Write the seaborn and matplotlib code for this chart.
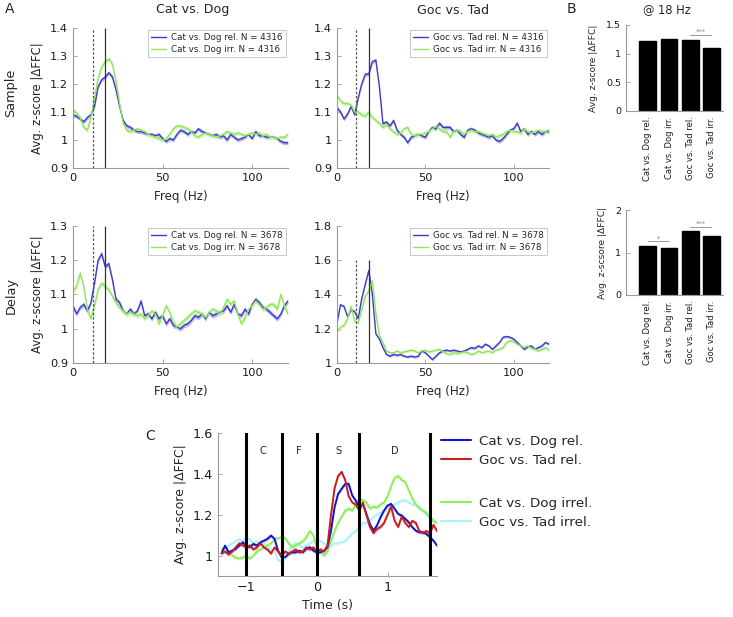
import numpy as np
import pandas as pd
import matplotlib
matplotlib.use("Agg")
import matplotlib.pyplot as plt
import seaborn as sns
from matplotlib.lines import Line2D

sns.set_style("ticks")
plt.rcParams['font.family'] = ['DejaVu Sans']
plt.rcParams['xtick.direction'] = 'in'
plt.rcParams['ytick.direction'] = 'in'

# ---------------- data ----------------
freq = list(range(0, 121, 2))

sample_cd_rel = [1.088, 1.085, 1.075, 1.065, 1.08, 1.09, 1.12, 1.19, 1.215, 1.225,
                 1.24, 1.225, 1.18, 1.12, 1.07, 1.05, 1.045, 1.035, 1.03, 1.03,
                 1.025, 1.02, 1.02, 1.015, 1.02, 1.005, 0.995, 1.005, 1.0, 1.02,
                 1.035, 1.03, 1.02, 1.03, 1.025, 1.04, 1.03, 1.025, 1.02, 1.015,
                 1.02, 1.01, 1.015, 1.0, 1.02, 1.01, 1.0, 1.005, 1.01, 1.02,
                 1.005, 1.03, 1.015, 1.015, 1.01, 1.01, 1.01, 1.005, 0.995, 0.99, 0.99]
sample_cd_irr = [1.11, 1.095, 1.08, 1.045, 1.035, 1.08, 1.15, 1.22, 1.26, 1.28,
                 1.29, 1.27, 1.21, 1.13, 1.06, 1.035, 1.03, 1.035, 1.04, 1.035,
                 1.03, 1.02, 1.015, 1.01, 1.005, 1.0, 1.005, 1.02, 1.04, 1.05,
                 1.05, 1.045, 1.04, 1.03, 1.015, 1.01, 1.02, 1.025, 1.02, 1.015,
                 1.01, 1.015, 1.02, 1.03, 1.025, 1.02, 1.025, 1.02, 1.015, 1.02,
                 1.025, 1.02, 1.025, 1.015, 1.02, 1.01, 1.01, 1.005, 1.01, 1.01, 1.02]
sample_gt_rel = [1.115, 1.10, 1.075, 1.093, 1.12, 1.09, 1.15, 1.20, 1.235, 1.235,
                 1.28, 1.285, 1.19, 1.058, 1.064, 1.05, 1.07, 1.035, 1.02, 1.01,
                 0.99, 1.01, 1.015, 1.02, 1.015, 1.01, 1.03, 1.045, 1.04, 1.06,
                 1.045, 1.045, 1.045, 1.03, 1.035, 1.02, 1.01, 1.035, 1.04, 1.035,
                 1.025, 1.02, 1.015, 1.01, 1.015, 1.0, 0.995, 1.005, 1.02, 1.035,
                 1.04, 1.06, 1.03, 1.04, 1.02, 1.03, 1.02, 1.03, 1.02, 1.03, 1.03]
sample_gt_irr = [1.16, 1.14, 1.13, 1.13, 1.125, 1.10, 1.10, 1.09, 1.085, 1.10,
                 1.08, 1.07, 1.06, 1.045, 1.055, 1.04, 1.03, 1.02, 1.025, 1.04,
                 1.045, 1.02, 1.015, 1.02, 1.02, 1.025, 1.03, 1.04, 1.05, 1.04,
                 1.03, 1.03, 1.01, 1.03, 1.035, 1.03, 1.02, 1.03, 1.035, 1.03,
                 1.03, 1.025, 1.02, 1.015, 1.02, 1.01, 1.015, 1.02, 1.03, 1.035,
                 1.03, 1.03, 1.025, 1.04, 1.03, 1.025, 1.03, 1.035, 1.03, 1.03, 1.035]
delay_cd_rel = [1.067, 1.043, 1.062, 1.071, 1.052, 1.076, 1.133, 1.20, 1.219, 1.181,
                1.19, 1.143, 1.086, 1.076, 1.052, 1.043, 1.057, 1.043, 1.052, 1.081,
                1.038, 1.043, 1.029, 1.048, 1.029, 1.038, 1.014, 1.029, 1.01, 1.005,
                1.0, 1.01, 1.014, 1.024, 1.038, 1.033, 1.043, 1.029, 1.048, 1.038,
                1.043, 1.048, 1.052, 1.067, 1.048, 1.071, 1.043, 1.038, 1.057, 1.043,
                1.071, 1.086, 1.076, 1.062, 1.057, 1.048, 1.038, 1.029, 1.043, 1.067, 1.081]
delay_cd_irr = [1.11, 1.124, 1.162, 1.124, 1.057, 1.029, 1.067, 1.114, 1.133, 1.124,
                1.114, 1.095, 1.076, 1.062, 1.052, 1.043, 1.048, 1.043, 1.038, 1.043,
                1.029, 1.038, 1.052, 1.043, 1.014, 1.038, 1.067, 1.048, 1.019, 1.005,
                1.014, 1.024, 1.033, 1.043, 1.052, 1.048, 1.043, 1.033, 1.048, 1.057,
                1.052, 1.043, 1.062, 1.086, 1.071, 1.081, 1.043, 1.014, 1.033, 1.057,
                1.067, 1.081, 1.071, 1.057, 1.062, 1.071, 1.071, 1.057, 1.10, 1.067, 1.043]
delay_gt_rel = [1.234, 1.34, 1.33, 1.27, 1.31, 1.30, 1.26, 1.375, 1.46, 1.54,
                1.40, 1.17, 1.14, 1.09, 1.05, 1.04, 1.05, 1.045, 1.05, 1.04,
                1.035, 1.04, 1.035, 1.04, 1.07, 1.06, 1.04, 1.02, 1.04, 1.06,
                1.07, 1.075, 1.07, 1.075, 1.07, 1.065, 1.07, 1.08, 1.09, 1.085,
                1.10, 1.09, 1.11, 1.10, 1.08, 1.10, 1.12, 1.15, 1.155, 1.15,
                1.14, 1.12, 1.10, 1.08, 1.095, 1.10, 1.08, 1.09, 1.10, 1.12, 1.11]
delay_gt_irr = [1.18, 1.21, 1.22, 1.26, 1.33, 1.245, 1.233, 1.31, 1.39, 1.42,
                1.48, 1.29, 1.16, 1.12, 1.07, 1.06, 1.06, 1.07, 1.06, 1.065,
                1.07, 1.075, 1.07, 1.06, 1.07, 1.075, 1.065, 1.07, 1.075, 1.08,
                1.065, 1.055, 1.05, 1.06, 1.055, 1.06, 1.065, 1.06, 1.05, 1.055,
                1.07, 1.06, 1.065, 1.07, 1.06, 1.075, 1.08, 1.09, 1.12, 1.13,
                1.125, 1.11, 1.10, 1.09, 1.10, 1.085, 1.08, 1.07, 1.08, 1.09, 1.075]

bar_labels = ['Cat vs. Dog rel.', 'Cat vs. Dog irr.', 'Goc vs. Tad rel.', 'Goc vs. Tad irr.']
bar_sample = [1.22, 1.25, 1.24, 1.10]
bar_delay = [1.16, 1.11, 1.50, 1.40]

time = np.round(np.arange(-1.35, 1.701, 0.05), 2)
c_cd_rel = [1.011, 1.049, 1.016, 1.024, 1.033, 1.049, 1.065, 1.049,
            1.041, 1.057, 1.049, 1.065, 1.073, 1.082, 1.098, 1.082, 1.024, 0.992,
            0.992, 1.008, 1.016, 1.016, 1.024, 1.016, 1.033, 1.041, 1.024, 1.016,
            1.016, 1.024, 1.041, 1.122, 1.237, 1.302, 1.327, 1.351, 1.351, 1.294,
            1.269, 1.237, 1.253, 1.204, 1.155, 1.122, 1.147, 1.188, 1.220, 1.245,
            1.253, 1.229, 1.204, 1.196, 1.180, 1.163, 1.139, 1.122, 1.114, 1.114,
            1.106, 1.090, 1.073, 1.049]
c_gt_rel = [1.01, 1.02, 1.005, 1.02, 1.04, 1.06, 1.05, 1.04,
            1.05, 1.03, 1.04, 1.06, 1.04, 1.03, 1.01, 1.04, 1.02, 1.0,
            1.02, 1.01, 1.02, 1.03, 1.015, 1.02, 1.04, 1.03, 1.04, 1.02,
            1.03, 1.02, 1.05, 1.20, 1.33, 1.39, 1.41, 1.37, 1.29, 1.26,
            1.25, 1.22, 1.26, 1.20, 1.14, 1.11, 1.13, 1.14, 1.16, 1.20,
            1.24, 1.17, 1.14, 1.19, 1.16, 1.14, 1.17, 1.16, 1.12, 1.11,
            1.12, 1.11, 1.15, 1.12]
c_cd_irr = [1.03, 1.04, 1.02, 1.0, 0.99, 0.985, 0.99, 1.0,
            0.985, 1.0, 1.02, 1.03, 1.04, 1.05, 1.06, 1.08, 1.085, 1.09,
            1.085, 1.06, 1.04, 1.05, 1.06, 1.07, 1.09, 1.12, 1.10, 1.04,
            1.02, 1.0, 1.02, 1.07, 1.12, 1.16, 1.19, 1.22, 1.23, 1.22,
            1.25, 1.28, 1.27, 1.26, 1.23, 1.24, 1.235, 1.25, 1.26, 1.29,
            1.34, 1.38, 1.39, 1.37, 1.36, 1.32, 1.28, 1.25, 1.23, 1.22,
            1.21, 1.19, 1.17, 1.16]
c_gt_irr = [1.02, 1.03, 1.05, 1.06, 1.07, 1.08, 1.07, 1.09,
            1.08, 1.06, 1.07, 1.05, 1.06, 1.04, 1.03, 1.02, 0.98, 0.97,
            0.99, 1.02, 1.05, 1.06, 1.05, 1.04, 1.05, 1.06, 1.07, 1.08,
            1.07, 1.06, 1.05, 1.05, 1.06, 1.06, 1.065, 1.07, 1.09, 1.11,
            1.12, 1.14, 1.16, 1.16, 1.17, 1.19, 1.20, 1.21, 1.22, 1.23,
            1.24, 1.25, 1.26, 1.27, 1.27, 1.26, 1.25, 1.25, 1.24, 1.22,
            1.20, 1.18, 1.17, 1.16]
epoch_lines = [-1.0, -0.5, 0.0, 0.6, 1.6]
epoch_names = ['C', 'F', 'S', 'D']
epoch_pos = [-0.76, -0.25, 0.3, 1.1]

sem_a = 0.007
sem_c = 0.008

# ---------------- styling ----------------
W, H = 733, 617
fig = plt.figure(figsize=(W / 100, H / 100), dpi=100)

def rect(l, t, r, b):
    return [l / W, 1 - b / H, (r - l) / W, (b - t) / H]

SPINE = '#9a9a9a'
A_BLUE, A_BLUE_BAND = '#3c3cc8', '#b8b8f0'
A_GREEN, A_GREEN_BAND = '#90e65c', '#d0f5b8'

def style_ax(ax, fs):
    sns.despine(ax=ax)
    for s in ['left', 'bottom']:
        ax.spines[s].set_color(SPINE)
        ax.spines[s].set_linewidth(0.8)
    ax.tick_params(axis='both', colors=SPINE, labelcolor='#1a1a1a',
                   labelsize=fs, length=3, width=0.6, direction='in')


def panel_a(r, rel, irr, lab_rel, lab_irr, ylim, yticks, yticklabels, vtop, ylabel=None):
    ax = fig.add_axes(r)
    rel = np.array(rel)
    irr = np.array(irr)
    ax.fill_between(freq, rel - sem_a, rel + sem_a, color=A_BLUE_BAND, lw=0)
    ax.fill_between(freq, irr - sem_a, irr + sem_a, color=A_GREEN_BAND, lw=0)
    df = pd.DataFrame({'Freq': freq * 2, 'val': list(rel) + list(irr),
                       'cond': [lab_rel] * len(freq) + [lab_irr] * len(freq)})
    sns.lineplot(data=df, x='Freq', y='val', hue='cond', hue_order=[lab_rel, lab_irr],
                 palette=[A_BLUE, A_GREEN], lw=1.0, ax=ax)
    ax.vlines(11, ylim[0], vtop, colors='#555555', linestyles=(0, (2, 1.5)), lw=0.9)
    ax.vlines(18, ylim[0], vtop, colors='#333333', lw=0.9)
    ax.set_xlim(0, 120)
    ax.set_ylim(*ylim)
    ax.set_xticks([0, 50, 100])
    ax.set_yticks(yticks)
    ax.set_yticklabels(yticklabels)
    ax.set_xlabel('Freq (Hz)', fontsize=8.6, labelpad=5)
    ax.set_ylabel(ylabel if ylabel else '', fontsize=8.4)
    style_ax(ax, 8.2)
    leg = ax.legend(loc='upper right', fontsize=6.3, frameon=True, fancybox=False,
                    edgecolor='#b0b0b0', handlelength=1.7, borderaxespad=0.25,
                    borderpad=0.35, labelspacing=0.3, handletextpad=0.6)
    leg.get_frame().set_linewidth(0.6)
    return ax

ax1 = panel_a(rect(73, 28, 288, 168), sample_cd_rel, sample_cd_irr,
              'Cat vs. Dog rel. N = 4316', 'Cat vs. Dog irr. N = 4316',
              (0.9, 1.4), [0.9, 1.0, 1.1, 1.2, 1.3, 1.4], ['0.9', '1', '1.1', '1.2', '1.3', '1.4'],
              1.4, 'Avg. z-score |ΔFFC|')
ax2 = panel_a(rect(337, 28, 549, 168), sample_gt_rel, sample_gt_irr,
              'Goc vs. Tad rel. N = 4316', 'Goc vs. Tad irr. N = 4316',
              (0.9, 1.4), [0.9, 1.0, 1.1, 1.2, 1.3, 1.4], ['0.9', '1', '1.1', '1.2', '1.3', '1.4'],
              1.4)
ax3 = panel_a(rect(73, 226, 288, 363), delay_cd_rel, delay_cd_irr,
              'Cat vs. Dog rel. N = 3678', 'Cat vs. Dog irr. N = 3678',
              (0.9, 1.3), [0.9, 1.0, 1.1, 1.2, 1.3], ['0.9', '1', '1.1', '1.2', '1.3'],
              1.3, 'Avg. z-scsore |ΔFFC|')
ax4 = panel_a(rect(337, 226, 549, 363), delay_gt_rel, delay_gt_irr,
              'Goc vs. Tad rel. N = 3678', 'Goc vs. Tad irr. N = 3678',
              (1.0, 1.8), [1.0, 1.2, 1.4, 1.6, 1.8], ['1', '1.2', '1.4', '1.6', '1.8'],
              1.6)

# ---------------- panel B ----------------
def panel_b(r, vals, ylim, yticks, yticklabels, ylabel, sigs):
    ax = fig.add_axes(r)
    sns.barplot(x=bar_labels, y=vals, color='black', edgecolor='black', saturation=1,
                width=0.8, errorbar=None, ax=ax)
    ax.set_xlim(-1.04, 3.56)
    ax.set_ylim(*ylim)
    ax.set_yticks(yticks)
    ax.set_yticklabels(yticklabels)
    ax.set_ylabel(ylabel, fontsize=6.6, labelpad=6)
    style_ax(ax, 6.8)
    ax.tick_params(axis='x', length=0, labelsize=6, rotation=90, pad=4)
    for x0, x1, yv, txt in sigs:
        ax.plot([x0, x1], [yv, yv], color='#999999', lw=0.7)
        ax.text((x0 + x1) / 2, yv, txt, ha='center', va='bottom', fontsize=5, color='#888888')
    return ax

axb1 = panel_b(rect(626, 25, 723, 111), bar_sample, (0, 1.5), [0, 0.5, 1, 1.5],
               ['0', '0.5', '1', '1.5'], 'Avg. z-score |ΔFFC|', [(2, 3, 1.33, '***')])
axb2 = panel_b(rect(626, 210, 723, 295), bar_delay, (0, 2), [0, 1, 2],
               ['0', '1', '2'], 'Avg. z-scsore |ΔFFC|',
               [(0, 1, 1.26, '*'), (2, 3, 1.60, '***')])

# ---------------- panel C ----------------
axc = fig.add_axes(rect(218, 433, 437, 576))
C_COLORS = {'Cat vs. Dog rel.': '#1414c8', 'Goc vs. Tad rel.': '#c81e1e',
            'Cat vs. Dog irrel.': '#8cf05a', 'Goc vs. Tad irrel.': '#aaf2ff'}
C_BANDS = {'Cat vs. Dog rel.': '#b8b8f4', 'Goc vs. Tad rel.': '#f0b0b0',
           'Cat vs. Dog irrel.': '#d4f8c0', 'Goc vs. Tad irrel.': '#ddfaff'}
c_series = [('Goc vs. Tad irrel.', c_gt_irr), ('Cat vs. Dog irrel.', c_cd_irr),
            ('Cat vs. Dog rel.', c_cd_rel), ('Goc vs. Tad rel.', c_gt_rel)]
for name, vals in c_series:
    v = np.array(vals)
    axc.fill_between(time, v - sem_c, v + sem_c, color=C_BANDS[name], lw=0)
dfc = pd.DataFrame({'Time': np.concatenate([time] * 4),
                    'val': np.concatenate([vals for _, vals in c_series]),
                    'cond': np.repeat([n for n, _ in c_series], len(time))})
sns.lineplot(data=dfc, x='Time', y='val', hue='cond',
             hue_order=[n for n, _ in c_series],
             palette=[C_COLORS[n] for n, _ in c_series], lw=1.4, ax=axc, legend=False)
for xv in epoch_lines:
    axc.axvline(xv, color='black', lw=2.2)
for name, xp in zip(epoch_names, epoch_pos):
    axc.text(xp, 1.51, name, ha='center', va='center', fontsize=7)
axc.set_xlim(-1.4, 1.7)
axc.set_ylim(0.9, 1.6)
axc.set_xticks([-1, 0, 1])
axc.set_xticklabels(['\u22121', '0', '1'])
axc.set_yticks([1.0, 1.2, 1.4, 1.6])
axc.set_yticklabels(['1', '1.2', '1.4', '1.6'])
axc.set_xlabel('Time (s)', fontsize=9, labelpad=4)
axc.set_ylabel('Avg. z-score |ΔFFC|', fontsize=9)
style_ax(axc, 9.2)
rel_handles = [Line2D([], [], color=C_COLORS['Cat vs. Dog rel.'], lw=1.5, label='Cat vs. Dog rel.'),
               Line2D([], [], color=C_COLORS['Goc vs. Tad rel.'], lw=1.5, label='Goc vs. Tad rel.')]
irr_handles = [Line2D([], [], color=C_COLORS['Cat vs. Dog irrel.'], lw=1.5, label='Cat vs. Dog irrel.'),
               Line2D([], [], color=C_COLORS['Goc vs. Tad irrel.'], lw=1.5, label='Goc vs. Tad irrel.')]
for hs, top in [(rel_handles, 435), (irr_handles, 497)]:
    fig.legend(handles=hs, loc='upper left', bbox_to_anchor=(441 / W, 1 - top / H),
               frameon=False, fontsize=9.7, handlelength=2.2, borderpad=0, borderaxespad=0,
               labelspacing=0.42, handletextpad=0.6)

# ---------------- figure texts ----------------
fig.text(5 / W, 1 - 9 / H, 'A', fontsize=10, va='center', ha='left')
fig.text(567 / W, 1 - 9 / H, 'B', fontsize=10, va='center', ha='left')
fig.text(145 / W, 1 - 436 / H, 'C', fontsize=10, va='center', ha='left')
fig.text(193 / W, 1 - 10 / H, 'Cat vs. Dog', fontsize=9.1, ha='center', va='center')
fig.text(453 / W, 1 - 10 / H, 'Goc vs. Tad', fontsize=9.1, ha='center', va='center')
fig.text(667 / W, 1 - 10 / H, '@ 18 Hz', fontsize=8.3, ha='center', va='center')
fig.text(11 / W, 1 - 93 / H, 'Sample', fontsize=9.3, rotation=90, ha='center', va='center')
fig.text(11 / W, 1 - 296 / H, 'Delay', fontsize=9.3, rotation=90, ha='center', va='center')

fig.savefig('out.png', dpi=100)
